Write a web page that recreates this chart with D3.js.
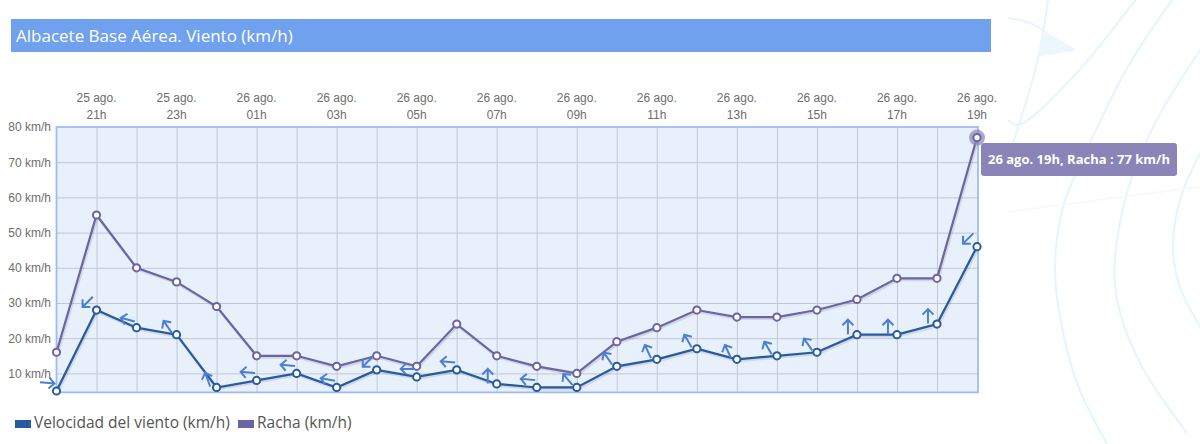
<!DOCTYPE html>
<html lang="es">
<head>
<meta charset="utf-8">
<title>Albacete Base Aérea. Viento (km/h)</title>
<script src="https://cdn.jsdelivr.net/npm/d3@7/dist/d3.min.js"></script>
<style>
  html, body { margin: 0; padding: 0; background: #fff; overflow: hidden; }
  svg { display: block; font-family: "Open Sans", sans-serif; }
  .axis path, .axis line { display: none; }
  .axis text { font-size: 12px; fill: #6e6e6e; }
  .grid path { display: none; }
  .grid line { stroke: #c2c7d4; stroke-width: 1; }
</style>
</head>
<body>
<div id="chart"></div>
<script>
// data
var days = ["25 ago.", "25 ago.", "25 ago.", "25 ago.", "26 ago.", "26 ago.", "26 ago.", "26 ago.",
  "26 ago.", "26 ago.", "26 ago.", "26 ago.", "26 ago.", "26 ago.", "26 ago.", "26 ago.",
  "26 ago.", "26 ago.", "26 ago.", "26 ago.", "26 ago.", "26 ago.", "26 ago.", "26 ago."];
var hours = ["20h", "21h", "22h", "23h", "00h", "01h", "02h", "03h", "04h", "05h", "06h", "07h",
  "08h", "09h", "10h", "11h", "12h", "13h", "14h", "15h", "16h", "17h", "18h", "19h"];
var velocidad = [5, 28, 23, 21, 6, 8, 10, 6, 11, 9, 11, 7, 6, 6, 12, 14, 17, 14, 15, 16, 21, 21, 24, 46];
var racha = [16, 55, 40, 36, 29, 15, 15, 12, 15, 12, 24, 15, 12, 10, 19, 23, 28, 26, 26, 28, 31, 37, 37, 77];
// where each wind arrow points, degrees clockwise from north
var rumbo = [95, 225, 285, 325, 340, 275, 275, 280, 225, 270, 275, 0, 275, 320, 325, 335, 330, 335, 330, 325, 0, 0, 0, 225];
var yTicks = [10, 20, 30, 40, 50, 60, 70, 80];
var xLabelTicks = [1, 3, 5, 7, 9, 11, 13, 15, 17, 19, 21, 23];
var series = [
  { name: "Velocidad del viento (km/h)", values: velocidad, color: "#275a9e" },
  { name: "Racha (km/h)", values: racha, color: "#6b64a6" }
];
var tipIndex = 23;

var width = 1200, height = 444,
  plot = { left: 56.5, right: 978, top: 127, bottom: 392.4 };

var svg = d3.select("#chart").append("svg")
  .attr("width", width).attr("height", height);

// pale background sketch on the right of the page
var bgCurves = [
  [[1107, 444], [1077, 383], [1060, 317], [1055, 267], [1063, 207], [1090, 143], [1130, 63], [1172, 0]],
  [[1187, 433], [1140, 363], [1117, 300], [1115, 260], [1127, 193], [1153, 127], [1200, 50]],
  [[1200, 327], [1180, 287], [1173, 250], [1180, 200], [1200, 153]],
  [[1008, 120], [1018, 125], [1073, 77], [1130, 7], [1136, 0]],
  [[1048, 0], [1037, 63], [1013, 143]],
  [[1008, 18], [1030, 23], [1043, 30]]
];
var bgLine = d3.line().curve(d3.curveCatmullRom);
svg.append("g").selectAll("path").data(bgCurves).join("path")
  .attr("d", bgLine).attr("fill", "none")
  .attr("stroke", "#e6f6fc").attr("stroke-width", 2.2);
svg.append("path")
  .attr("d", bgLine([[1008, 212], [1120, 197], [1200, 187]]))
  .attr("fill", "none").attr("stroke", "#f7f9fb").attr("stroke-width", 2);
svg.append("path").attr("d", "M1043,30L1077,50L1038,57Z").attr("fill", "#ecf7fd");

// title bar
svg.append("rect").attr("x", 11).attr("y", 19).attr("width", 980).attr("height", 33).attr("fill", "#6fa1ee");
svg.append("text").attr("x", 16).attr("y", 41.5).attr("fill", "#fff").attr("font-size", 17)
  .text("Albacete Base Aérea. Viento (km/h)");

var x = d3.scaleLinear().domain([0, hours.length - 1]).range([plot.left, 977]);
var y = d3.scaleLinear().domain([4.6, 80]).range([plot.bottom, plot.top]);

// plot area
svg.append("rect")
  .attr("x", plot.left).attr("y", plot.top)
  .attr("width", plot.right - plot.left).attr("height", plot.bottom - plot.top)
  .attr("fill", "#e8f0fc");

svg.append("g").attr("class", "grid")
  .attr("transform", "translate(0," + plot.top + ")")
  .call(d3.axisTop(x).tickValues(d3.range(1, hours.length - 1))
    .tickSize(-(plot.bottom - plot.top)).tickFormat(""));
svg.append("g").attr("class", "grid")
  .attr("transform", "translate(" + plot.left + ",0)")
  .call(d3.axisLeft(y).tickValues(yTicks.slice(0, -1))
    .tickSize(-(plot.right - plot.left)).tickFormat(""));

svg.append("rect")
  .attr("x", plot.left).attr("y", plot.top)
  .attr("width", plot.right - plot.left).attr("height", plot.bottom - plot.top)
  .attr("fill", "none").attr("stroke", "#9dbdf1").attr("stroke-width", 1.8);

// axes
svg.append("g").attr("class", "axis")
  .attr("transform", "translate(" + (plot.left - 5.5) + ",0)")
  .call(d3.axisLeft(y).tickValues(yTicks).tickSize(0).tickPadding(0)
    .tickFormat(function (d) { return d + " km/h"; }));

var xAxis = svg.append("g").attr("class", "axis")
  .attr("transform", "translate(0,119)")
  .call(d3.axisTop(x).tickValues(xLabelTicks).tickSize(0).tickPadding(0));
xAxis.selectAll(".tick text").each(function (i) {
  var t = d3.select(this).text(null).attr("text-anchor", "middle").attr("y", 0);
  t.append("tspan").attr("x", -0.5).attr("y", -17).text(days[i]);
  t.append("tspan").attr("x", -0.5).attr("y", 0).text(hours[i]);
});

// lines, with the soft shadow under them
var line = d3.line()
  .x(function (d, i) { return x(i); })
  .y(function (d) { return y(d); });

series.slice().reverse().forEach(function (s) {
  svg.append("path").attr("d", line(s.values))
    .attr("transform", "translate(1,1.5)")
    .attr("fill", "none").attr("stroke", "#000").attr("stroke-opacity", 0.1).attr("stroke-width", 3);
  svg.append("path").attr("d", line(s.values))
    .attr("fill", "none").attr("stroke", s.color).attr("stroke-width", 2.2);
});

// halo on the hovered point
svg.append("circle")
  .attr("cx", x(tipIndex)).attr("cy", y(racha[tipIndex])).attr("r", 8)
  .attr("fill", "#8a84b8").attr("fill-opacity", 0.7);

series.forEach(function (s) {
  svg.append("g").selectAll("circle").data(s.values).join("circle")
    .attr("cx", function (d, i) { return x(i); })
    .attr("cy", function (d) { return y(d); })
    .attr("r", 3.6)
    .attr("fill", "#fff").attr("stroke", s.color).attr("stroke-width", 2);
});

// wind direction arrows, each sits up and left of its point
svg.append("g").selectAll("path").data(rumbo).join("path")
  .attr("d", "M0,7.5L0,-7M-5.5,-1.5L0,-7L5.5,-1.5")
  .attr("transform", function (d, i) {
    return "translate(" + (x(i) - 9) + "," + (y(velocidad[i]) - 8) + ") rotate(" + d + ")";
  })
  .attr("fill", "none").attr("stroke", "#4a7fd3").attr("stroke-width", 2);

// tooltip
var tip = svg.append("g").attr("transform", "translate(981,143)");
tip.append("rect").attr("width", 196).attr("height", 33).attr("rx", 3)
  .attr("fill", "#8a84b8");
tip.append("text").attr("x", 7).attr("y", 21).attr("fill", "#fff")
  .attr("font-size", 13).attr("font-weight", 700)
  .text(days[tipIndex] + " " + hours[tipIndex] + ", Racha : " + racha[tipIndex] + " km/h");

// legend
var legendPos = [15, 238];
series.forEach(function (s, i) {
  svg.append("rect").attr("x", legendPos[i]).attr("y", 420).attr("width", 16).attr("height", 8).attr("fill", s.color);
  svg.append("text").attr("x", legendPos[i] + 19).attr("y", 428)
    .attr("fill", "#555").attr("font-size", 15.5).text(s.name);
});
</script>
</body>
</html>
